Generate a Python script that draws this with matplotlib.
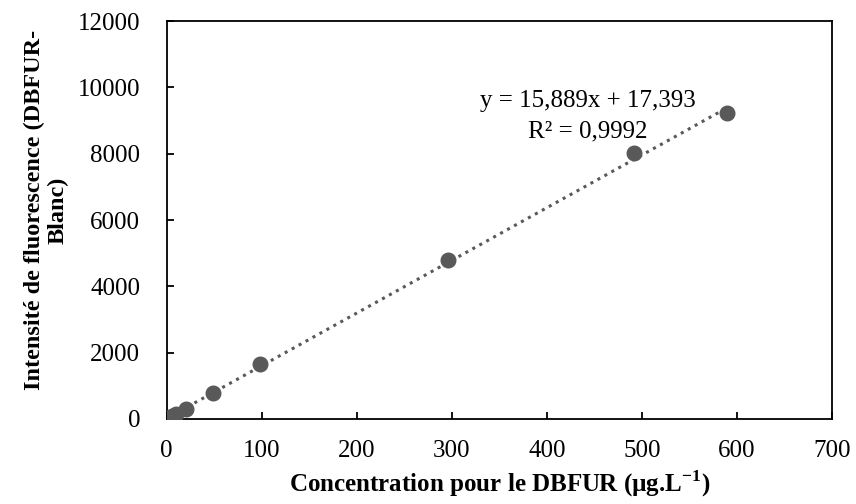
import matplotlib
matplotlib.use("Agg")
import matplotlib.pyplot as plt
import numpy as np

plt.rcParams['font.family'] = ['Liberation Serif', 'DejaVu Serif']
plt.rcParams['mathtext.fontset'] = 'custom'
plt.rcParams['mathtext.rm'] = 'Liberation Serif'
plt.rcParams['mathtext.bf'] = 'Liberation Serif:bold'

# data
concentration = [0, 3, 6, 10, 20, 49, 98, 296, 492, 590]
intensity = [0, 40, 90, 150, 300, 780, 1660, 4800, 8010, 9230]

slope = 15.889
intercept = 17.393

fig = plt.figure(figsize=(8.56, 5.04), dpi=100)
ax = fig.add_axes([0.1947, 0.1687, 0.7773, 0.7893])

# trendline (dotted)
xt = np.array([0, max(concentration)])
ax.plot(xt, slope * xt + intercept, linestyle=(0, (1, 1.6)), color='#595959',
        linewidth=2.2, zorder=2)
ax.plot(concentration, intensity, 'o', color='#595959', markersize=10.5, zorder=3)

ax.set_xlim(0, 700)
ax.set_ylim(0, 12000)
ax.set_xticks(range(0, 701, 100))
ax.set_yticks(range(0, 12001, 2000))
ax.tick_params(direction='in', length=5, width=1.3, labelsize=18)
ax.tick_params(axis='x', pad=15)
ax.tick_params(axis='y', pad=19)
for s in ax.spines.values():
    s.set_linewidth(1.3)

ax.set_xlabel(r'Concentration pour le DBFUR (µg.L$^{\mathbf{-1}}$)', fontsize=18,
              fontweight='bold', labelpad=5)
ax.set_ylabel('Intensité de fluorescence (DBFUR-\nBlanc)', fontsize=17.5,
              fontweight='bold', linespacing=1.1)
ax.yaxis.set_label_coords(-0.148, 0.525)

ax.text(443, 9130, 'y = 15,889x + 17,393\nR² = 0,9992', ha='center', va='center',
        fontsize=18, linespacing=1.45)

fig.savefig('out.png', dpi=100)
